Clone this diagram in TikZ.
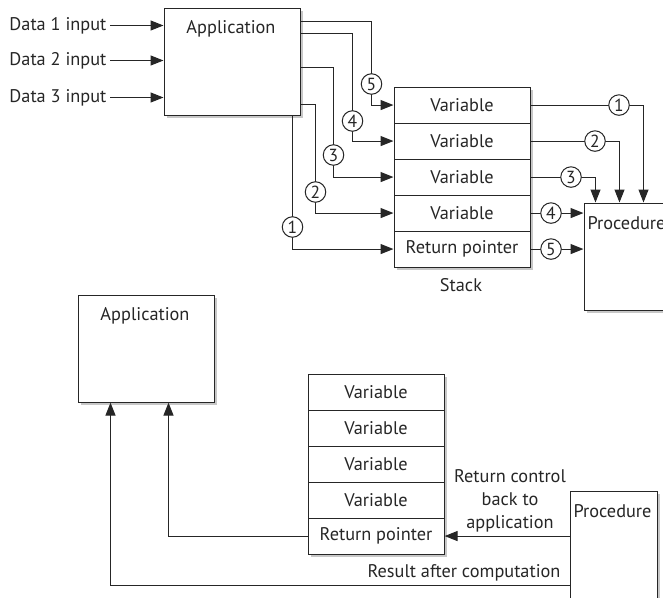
\documentclass[tikz,border=0pt]{standalone}
\usepackage{fontspec}
\setmainfont{PT Sans}
\usetikzlibrary{arrows.meta,shadows}
\begin{document}
\begin{tikzpicture}[x=1pt,y=-1pt,
  color=black!85,
  line width=1.1pt,
  font=\fontsize{18.3}{23}\selectfont,
  shad/.style={drop shadow={shadow xshift=2.5pt,shadow yshift=-2.5pt,fill=black!22,opacity=1}},
  box/.style={draw,fill=white,shad,minimum width=136pt,minimum height=107pt,inner sep=0pt,anchor=north west},
  procbox/.style={box,minimum width=87pt},
  row/.style={draw,fill=white,shad,minimum width=136pt,minimum height=36pt,inner sep=0pt,anchor=north west},
  num/.style={circle,draw,fill=white,line width=1pt,minimum size=20.5pt,inner sep=0pt,font=\fontsize{17.5}{17.5}\selectfont},
  arr/.style={-{Triangle[length=13pt,width=10pt]}},
  lbl/.style={inner sep=0pt},
  dlbl/.style={inner xsep=3pt,inner ysep=0pt,anchor=east}
]
\useasboundingbox (0,0) rectangle (663,597);

% ---------- top diagram ----------
\node[box] (app1) at (163.5,7.5) {};
\node[lbl] (app1t) at (231,29) {Application};

\node[dlbl] (d1) at (110,25.5) {Data 1 input};
\node[dlbl] (d2) at (110,60.5) {Data 2 input};
\node[dlbl] (d3) at (110,97.5) {Data 3 input};
\draw[arr] (d1.east) -- (d1.east -| app1.west);
\draw[arr] (d2.east) -- (d2.east -| app1.west);
\draw[arr] (d3.east) -- (d3.east -| app1.west);

\node[row] (s1) at (393.5,86.5) {Variable};
\node[row] (s2) at (393.5,122.5) {Variable};
\node[row] (s3) at (393.5,158.5) {Variable};
\node[row] (s4) at (393.5,194.5) {Variable};
\node[row] (s5) at (393.5,230.5) {Return pointer};
\node[lbl] (stk) at (461,285) {Stack};

\node[procbox] (proc1) at (583.5,202.5) {};
\node[lbl] (proc1t) at (626.5,223) {Procedure};

% application -> stack
\draw[arr] (app1.east |- 0,21.5) -- (371.5,21.5) |- (s1.west);
\draw[arr] (app1.east |- 0,33.5) -- (352.5,33.5) |- (s2.west);
\draw[arr] (app1.east |- 0,67.5) -- (333.5,67.5) |- (s3.west);
\draw[arr] (app1.east |- 0,104.5) -- (315.5,104.5) |- (s4.west);
\draw[arr] (app1.south -| 292.5,0) |- (s5.west);
\node[num] (la5) at (371.5,84) {5};
\node[num] (la4) at (352.5,121) {4};
\node[num] (la3) at (333.5,155) {3};
\node[num] (la2) at (315.5,192) {2};
\node[num] (la1) at (292.5,227) {1};

% stack -> procedure
\draw[arr] (s1.east) -| (643.5,0 |- proc1.north);
\draw[arr] (s2.east) -| (619.5,0 |- proc1.north);
\draw[arr] (s3.east) -| (595.5,0 |- proc1.north);
\draw[arr] (s4.east) -- (s4.east -| proc1.west);
\draw[arr] (s5.east) -- (s5.east -| proc1.west);
\node[num] (lb1) at (619,0 |- s1.east) {1};
\node[num] (lb2) at (595,0 |- s2.east) {2};
\node[num] (lb3) at (571,0 |- s3.east) {3};
\node[num] (lb4) at (551,0 |- s4.east) {4};
\node[num] (lb5) at (551,0 |- s5.east) {5};

% ---------- bottom diagram ----------
\node[box] (app2) at (77.5,294.5) {};
\node[lbl] (app2t) at (145,316) {Application};

\node[row] (b1) at (307.5,373.5) {Variable};
\node[row] (b2) at (307.5,409.5) {Variable};
\node[row] (b3) at (307.5,445.5) {Variable};
\node[row] (b4) at (307.5,481.5) {Variable};
\node[row] (b5) at (307.5,517.5) {Return pointer};

\node[procbox] (proc2) at (569.5,490.5) {};
\node[lbl] (proc2t) at (612.5,511) {Procedure};

\draw[arr] (proc2.west |- b5.east) -- (b5.east);
\draw[arr] (b5.west) -| (168.5,0 |- app2.south);
\draw[arr] (proc2.west |- 0,585.5) -| (110.5,0 |- app2.south);

\node[lbl,align=center] (ret) at (510,501) {Return control\\back to\\application};
\node[lbl,anchor=east] (res) at (561,573) {Result after computation};
\end{tikzpicture}
\end{document}
